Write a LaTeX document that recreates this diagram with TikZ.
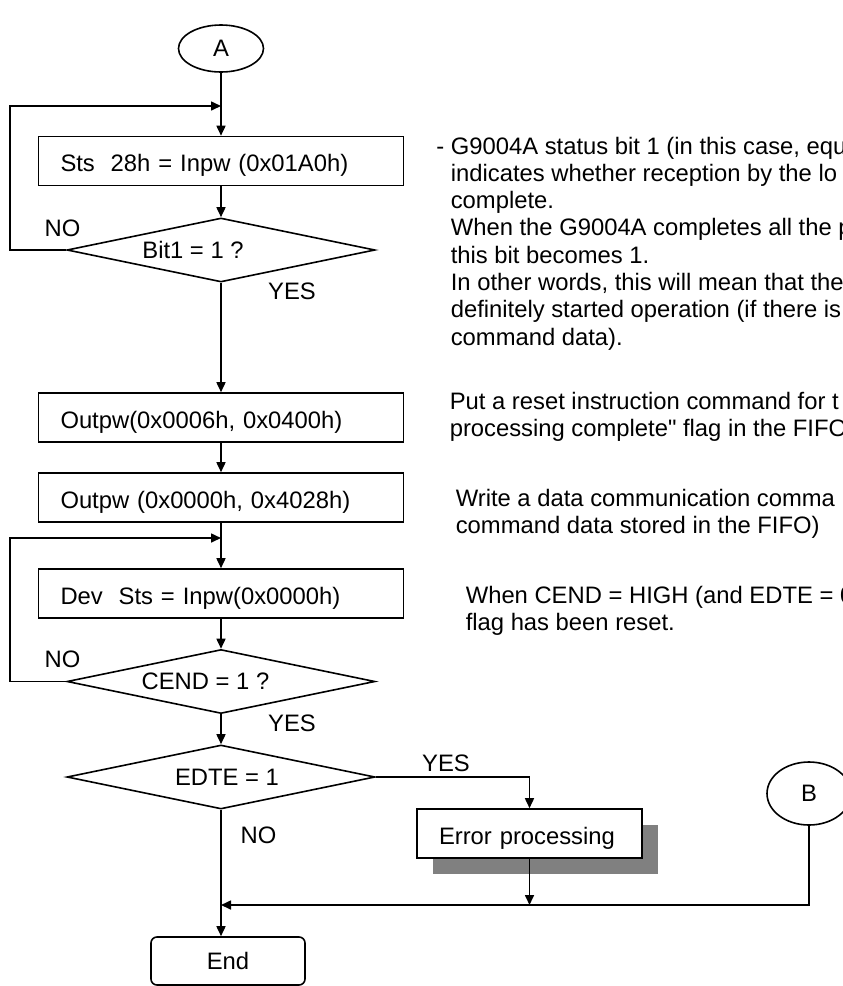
\documentclass[tikz,border=0pt]{standalone}
\usepackage{fontspec}
\setmainfont{Liberation Sans}
\usetikzlibrary{shapes.geometric,arrows.meta,shadows}
\begin{document}
\begin{tikzpicture}[x=1pt,y=-1pt,line width=1.6pt,
			every node/.style={font=\fontsize{23.8pt}{27.3pt}\selectfont,inner sep=0pt},
			conn/.style={ellipse,draw},
			proc/.style={rectangle,draw,fill=white,minimum height=49pt,inner xsep=22pt,
				text width=321pt,align=left,text height=21pt,text depth=0pt},
			dec/.style={diamond,draw,minimum width=308pt,minimum height=64pt},
			arr/.style={-{Triangle[length=10pt,width=9pt]}},
			note/.style={anchor=north west,align=left}]
			\clip (0,0) rectangle (843,986);
			\node[conn,minimum width=85pt,minimum height=47pt] (a) at (221,48.5) {A};
			\node[proc] (sts) at (221,161) {Sts\ \ 28h = Inpw (0x01A0h)};
			\node[dec] (bit) at (221,250) {};
			\node (bitt) at (193,250) {Bit1 = 1 ?};
			\node (no1) at (62.5,228) {NO};
			\node (yes1) at (292,291) {YES};
			\node[proc] (out1) at (221,417.5) {Outpw(0x0006h, 0x0400h)};
			\node[proc] (out2) at (221,497.5) {Outpw (0x0000h, 0x4028h)};
			\node[proc] (dev) at (221,593.5) {Dev\ \ Sts = Inpw(0x0000h)};
			\node[dec] (cend) at (221,681.5) {};
			\node (cendt) at (205.5,681.5) {CEND = 1 ?};
			\node (no2) at (62.5,659) {NO};
			\node (yes2) at (292,723) {YES};
			\node[dec] (edte) at (221,777) {};
			\node (edtet) at (227,777) {EDTE = 1};
			\node (yes3) at (446,763) {YES};
			\node (no3) at (258.5,835) {NO};
			\node[proc,text width=181pt,drop shadow={shadow xshift=16pt,shadow yshift=-16pt,fill=black!50,opacity=1}] (err) at (529.5,833.5) {Error processing};
			\node[conn,minimum width=84pt,minimum height=63pt] (b) at (809,793.5) {B};
			\node[draw,rounded corners=6pt,minimum width=154pt,minimum height=48pt] (end) at (228,961) {End};
			\coordinate (j1) at (221,106);
			\coordinate (j2) at (221,538);
			\coordinate (j3) at (221,905);
			\draw[arr] (a) -- (sts);
			\draw[arr] (sts) -- (bit);
			\draw[arr] (bit.west) -- ++(-56,0) |- (j1);
			\draw[arr] (bit) -- (out1);
			\draw[arr] (out1) -- (out2);
			\draw[arr] (out2) -- (dev);
			\draw[arr] (dev) -- (cend);
			\draw[arr] (cend.west) -- ++(-56,0) |- (j2);
			\draw[arr] (cend) -- (edte);
			\draw[arr] (edte.east) -| (err.north);
			\draw[arr] (edte.south) -- (edte.south |- end.north);
			\draw[arr] (err) -- (err |- j3);
			\draw[arr] (b) |- (j3);
			\node[note] (txt1) at (435.5,136) {- G9004A status bit 1 (in this case, equ\\
				\hphantom{- }indicates whether reception by the lo\\
				\hphantom{- }complete.\\
				\hphantom{- }When the G9004A completes all the p\\
				\hphantom{- }this bit becomes 1.\\
				\hphantom{- }In other words, this will mean that the\\
				\hphantom{- }definitely started operation (if there is\\
				\hphantom{- }command data).};
			\node[note] (txt2) at (449,391) {Put a reset instruction command for t\\
				processing complete\textquotedbl{} flag in the FIFO};
			\node[note] (txt3) at (455,488) {Write a data communication comma\\
				command data stored in the FIFO)};
			\node[note] (txt4) at (465,585) {When CEND = HIGH (and EDTE = 0\\
				flag has been reset.};
		\end{tikzpicture}
\end{document}
